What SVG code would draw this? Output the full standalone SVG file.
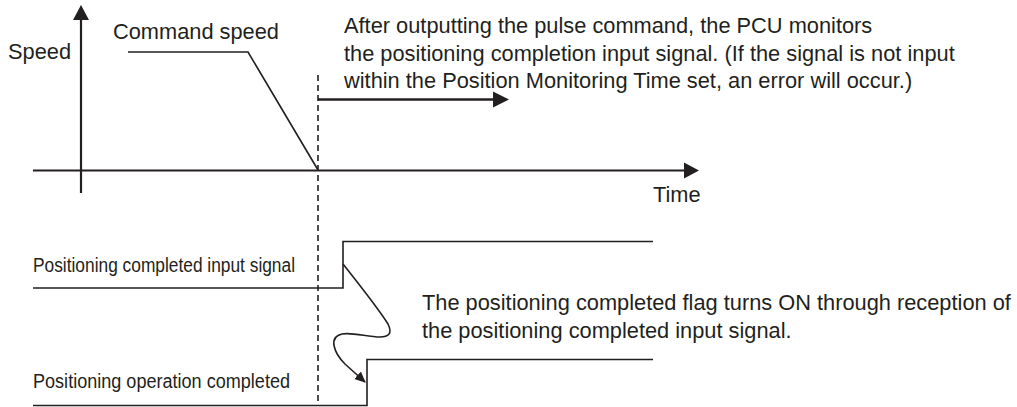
<svg xmlns="http://www.w3.org/2000/svg" width="1017" height="407" viewBox="0 0 1017 407">
<style>
.t{font-family:"Liberation Sans",Arial,sans-serif;font-size:21.8px;fill:#231f20}
.n{font-family:"Liberation Sans",Arial,sans-serif;font-size:19.5px;fill:#231f20}
.ax{stroke:#231f20;stroke-width:2.2;fill:none}
.ln{stroke:#231f20;stroke-width:1.6;fill:none}
.ah{fill:#231f20}
</style>
<defs>
<marker id="sm" markerWidth="14" markerHeight="12" refX="10" refY="5" orient="auto" markerUnits="userSpaceOnUse">
<path d="M0,0 L11,5 L0,10 Z" class="ah"/>
</marker>
</defs>
<g id="axes">
<line class="ax" x1="81" y1="19" x2="81" y2="193"/>
<path class="ah" d="M81,5 L89,20 L73,20 Z"/>
<line class="ax" x1="33" y1="170.5" x2="685" y2="170.5"/>
<path class="ah" d="M699,170.5 L684,162.5 L684,178.5 Z"/>
</g>
<g id="command-speed">
<polyline class="ln" points="128,52 248,52 318,170"/>
</g>
<g id="marker-line">
<line x1="318" y1="75" x2="318" y2="404" stroke="#231f20" stroke-width="1.6" stroke-dasharray="6,4"/>
</g>
<g id="monitor-arrow">
<line x1="318" y1="99.5" x2="495" y2="99.5" stroke="#231f20" stroke-width="2.6"/>
<path class="ah" d="M509,99.5 L493,91.5 L493,107.5 Z"/>
</g>
<g id="input-signal">
<polyline class="ln" points="33,288 343,288 343,241.5 653,241.5"/>
</g>
<g id="op-completed">
<polyline class="ln" points="33,405.5 367,405.5 367,359.5 653,359.5"/>
</g>
<g id="connectors">
<path class="ln" stroke-width="2" d="M343,264 C358,283 378,308 388,324 C393,334 388,337 380,337 C368,337 352,332 342,334 C328,337 334,353 345,364 L365,382" marker-end="url(#sm)"/>
</g>
<g id="labels">
<text class="t" x="8" y="59">Speed</text>
<text class="t" x="113" y="39">Command speed</text>
<text class="t" x="344" y="33">After outputting the pulse command, the PCU monitors</text>
<text class="t" x="344" y="60.5">the positioning completion input signal. (If the signal is not input</text>
<text class="t" x="344" y="88">within the Position Monitoring Time set, an error will occur.)</text>
<text class="t" x="653" y="202">Time</text>
<text class="n" x="33" y="272" textLength="262" lengthAdjust="spacingAndGlyphs">Positioning completed input signal</text>
<text class="n" x="33" y="388" textLength="257" lengthAdjust="spacingAndGlyphs">Positioning operation completed</text>
<text class="t" x="422" y="310">The positioning completed flag turns ON through reception of</text>
<text class="t" x="422" y="338">the positioning completed input signal.</text>
</g>
</svg>
